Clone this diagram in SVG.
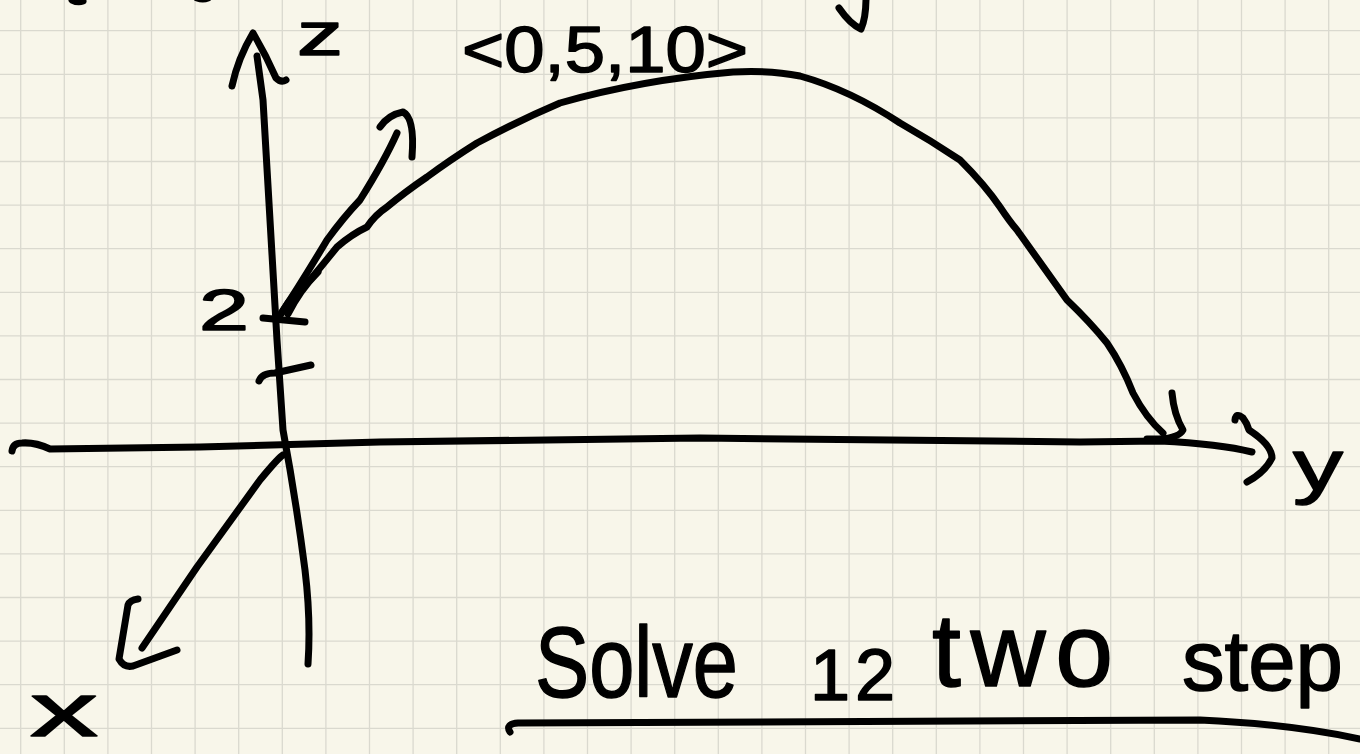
<svg xmlns="http://www.w3.org/2000/svg" width="1360" height="754" viewBox="0 0 1360 754">
  <style>
    .ink { fill: none; stroke: #000; stroke-width: 7; stroke-linecap: round; stroke-linejoin: round; }
    .grid { fill: none; stroke: #dad9cf; stroke-width: 1.3; }
    .hand { font-family: "Liberation Sans", "DejaVu Sans", sans-serif; fill: #000; stroke: #000; stroke-width: 1.5; stroke-linejoin: round; }
  </style>
  <rect id="paper" width="1360" height="754" fill="#f8f6ea"/>
  <path id="gridlines" class="grid" d="M20.7,0V754 M64.3,0V754 M107.9,0V754 M151.5,0V754 M195.1,0V754 M238.7,0V754 M282.3,0V754 M325.9,0V754 M369.5,0V754 M413.1,0V754 M456.7,0V754 M500.3,0V754 M543.9,0V754 M587.5,0V754 M631.1,0V754 M674.7,0V754 M718.3,0V754 M761.9,0V754 M805.5,0V754 M849.1,0V754 M892.7,0V754 M936.3,0V754 M979.9,0V754 M1023.5,0V754 M1067.1,0V754 M1110.7,0V754 M1154.3,0V754 M1197.9,0V754 M1241.5,0V754 M1285.1,0V754 M1328.7,0V754 M0,30.7H1360 M0,74.3H1360 M0,117.9H1360 M0,161.5H1360 M0,205.1H1360 M0,248.7H1360 M0,292.3H1360 M0,335.9H1360 M0,379.5H1360 M0,423.1H1360 M0,466.7H1360 M0,510.3H1360 M0,553.9H1360 M0,597.5H1360 M0,641.1H1360 M0,684.7H1360 M0,728.3H1360"/>

  <g id="fragments">
    <path class="ink" d="M72,0 Q78,3 83,1"/>
    <path class="ink" d="M197,-2 Q203,0 208,-2"/>
    <path class="ink" d="M839,8 Q850,24 861,29 Q866,18 866,-2"/>
  </g>

  <g id="connectors">
    <path id="z-axis" class="ink" d="M257,56 L263,100 L277,340 L283,430 Q296,500 305,570 Q311,620 308,664"/>
    <path id="z-arrowhead" class="ink" d="M232,86 Q238,58 253,33 Q266,55 276,78 Q281,83 286,80"/>
    <path id="y-axis" class="ink" d="M12,451 Q13,443 22,443 Q35,442 50,449 L200,447 L380,442 L700,438 L1080,442 L1160,441 Q1220,444 1252,452"/>
    <path id="y-arrowhead" class="ink" d="M1235,420 Q1236,412 1243,418 Q1247,423 1249,430 Q1272,445 1272,458 Q1265,472 1247,482"/>
    <path id="x-axis" class="ink" d="M283,455 Q279,457 260,480 L197,567 L142,648"/>
    <path id="x-arrowhead" class="ink" d="M138,599 Q130,600 128,605 L119,659 Q124,668 133,666 L177,650"/>
    <path id="trajectory" class="ink" d="M281,314 Q295,290 310,280 Q325,262 337,247 Q352,234 367,227 Q375,215 387,207 Q405,192 427,177 Q450,160 477,143 Q520,120 560,103 Q640,80 733,72 Q770,70 800,76 Q850,90 900,123 Q930,140 960,160 Q985,185 1000,207 Q1010,222 1017,230 L1067,300 Q1090,322 1107,343 Q1122,365 1133,393 Q1146,418 1163,433"/>
    <path id="trajectory-arrowhead" class="ink" d="M1172,393 Q1174,415 1183,430 Q1178,440 1147,439"/>
    <path id="velocity" class="ink" d="M282,312 Q300,285 327,240 Q343,218 360,200 Q385,160 397,133"/>
    <path id="velocity-2" class="ink" d="M288,314 Q300,290 318,272"/>
    <path id="velocity-arrowhead" class="ink" d="M380,127 Q388,115 403,112 Q415,118 412,157"/>
    <path id="tick-2" class="ink" d="M263,318 L305,322"/>
    <path id="tick-1" class="ink" d="M259,381 Q262,373 275,373 L311,365"/>
    <path id="underline" class="ink" d="M510,732 Q505,724 518,723 L1200,720 Q1290,724 1360,739"/>
  </g>

  <g id="label-z"><text class="hand" x="297" y="55" font-size="62" textLength="46" lengthAdjust="spacingAndGlyphs">z</text></g>
  <g id="label-vector"><text class="hand" x="462" y="72" font-size="64" textLength="286" lengthAdjust="spacingAndGlyphs">&lt;0,5,10&gt;</text></g>
  <g id="label-2"><text class="hand" x="199" y="330" font-size="58" textLength="50" lengthAdjust="spacingAndGlyphs">2</text></g>
  <g id="label-y"><text class="hand" x="1293" y="490" font-size="72" textLength="50" lengthAdjust="spacingAndGlyphs">y</text></g>
  <g id="label-x"><text class="hand" x="30" y="736" font-size="76" textLength="68" lengthAdjust="spacingAndGlyphs">x</text></g>
  <g id="caption">
    <text class="hand" x="535" y="697" font-size="100" textLength="203" lengthAdjust="spacingAndGlyphs">Solve</text>
    <text class="hand" x="810" y="700" font-size="72" textLength="85" lengthAdjust="spacing">12</text>
    <text class="hand" x="932" y="686" font-size="104" textLength="181" lengthAdjust="spacing">two</text>
    <text class="hand" x="1182" y="690" font-size="86" textLength="161" lengthAdjust="spacingAndGlyphs">step</text>
  </g>
</svg>
